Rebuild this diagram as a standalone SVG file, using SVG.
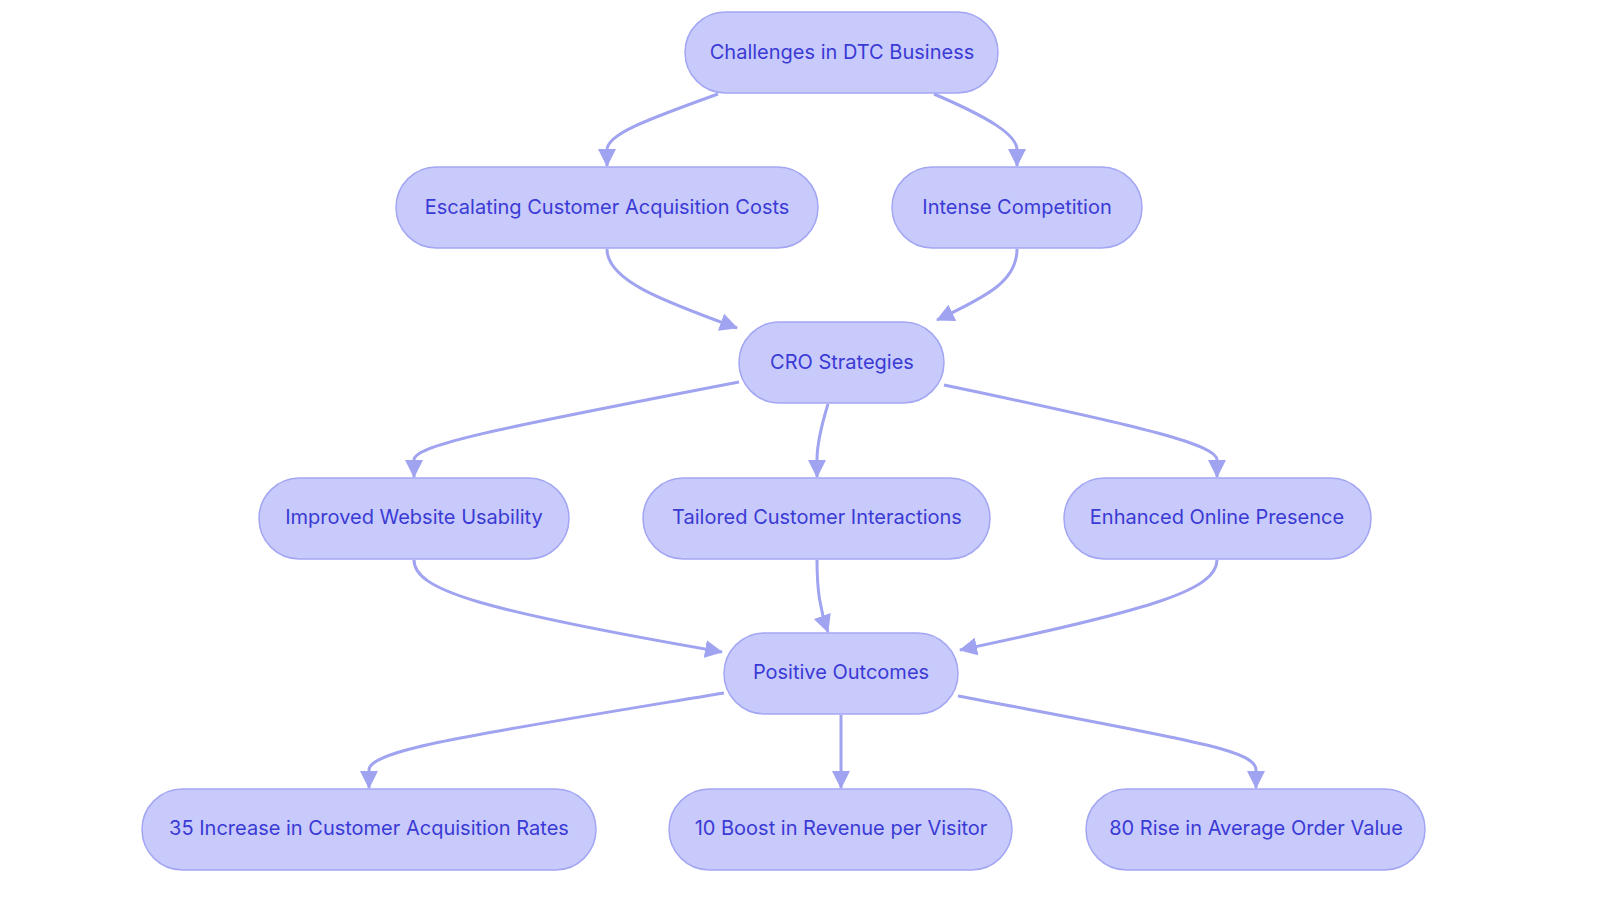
<svg xmlns="http://www.w3.org/2000/svg" width="1600" height="903" viewBox="0 0 1600 903">
<style>
.n rect{fill:#c8cafc;stroke:#a3a6f2;stroke-width:1.5}
.n text{font-family:Inter,"Liberation Sans",sans-serif;font-size:20px;fill:#3a3ad4;text-anchor:middle;dominant-baseline:central}
.e path{fill:none;stroke:#a0a3f0;stroke-width:3}
</style>
<defs><marker id="a" viewBox="0 0 10 10" refX="9" refY="5" markerWidth="6" markerHeight="6" orient="auto" markerUnits="userSpaceOnUse" style="overflow:visible"><path d="M0,0L10,5L0,10z" fill="#a0a3f0" transform="scale(1.8) translate(-4,-2.2)"/></marker>
<marker id="m" viewBox="0 0 18 18" refX="17" refY="9" markerWidth="18" markerHeight="18" orient="auto" markerUnits="userSpaceOnUse"><path d="M0,0L18,9L0,18z" fill="#a0a3f0"/></marker></defs>
<g class="e">
<path d="M718,94C640,122 607,135 607,150L607,166" marker-end="url(#m)"/>
<path d="M934,94C990,118 1017,135 1017,150L1017,166" marker-end="url(#m)"/>
<path d="M607,249C607,280 660,300 737,328" marker-end="url(#m)"/>
<path d="M1017,249C1017,280 990,295 937,320" marker-end="url(#m)"/>
<path d="M739,382C500,428 414,445 414,460L414,477" marker-end="url(#m)"/>
<path d="M828,404C820,430 817,445 817,460L817,477" marker-end="url(#m)"/>
<path d="M944,385C1150,428 1217,445 1217,460L1217,477" marker-end="url(#m)"/>
<path d="M414,560C414,590 480,610 722,652" marker-end="url(#m)"/>
<path d="M817,560C817,590 820,610 828,632" marker-end="url(#m)"/>
<path d="M1217,560C1217,590 1150,610 960,650" marker-end="url(#m)"/>
<path d="M724,693C470,735 369,750 369,770L369,788" marker-end="url(#m)"/>
<path d="M841,715L841,788" marker-end="url(#m)"/>
<path d="M958,696C1190,740 1256,750 1256,770L1256,788" marker-end="url(#m)"/>
</g>
<g id="n1" class="n"><rect x="685" y="12" width="313" height="81" rx="40.5"/><text x="842" y="52">Challenges in DTC Business</text></g>
<g id="n2" class="n"><rect x="396" y="167" width="422" height="81" rx="40.5"/><text x="607" y="207">Escalating Customer Acquisition Costs</text></g>
<g id="n3" class="n"><rect x="892" y="167" width="250" height="81" rx="40.5"/><text x="1017" y="207">Intense Competition</text></g>
<g id="n4" class="n"><rect x="739" y="322" width="205" height="81" rx="40.5"/><text x="842" y="362">CRO Strategies</text></g>
<g id="n5" class="n"><rect x="259" y="478" width="310" height="81" rx="40.5"/><text x="414" y="517">Improved Website Usability</text></g>
<g id="n6" class="n"><rect x="643" y="478" width="347" height="81" rx="40.5"/><text x="817" y="517">Tailored Customer Interactions</text></g>
<g id="n7" class="n"><rect x="1064" y="478" width="307" height="81" rx="40.5"/><text x="1217" y="517">Enhanced Online Presence</text></g>
<g id="n8" class="n"><rect x="724" y="633" width="234" height="81" rx="40.5"/><text x="841" y="672">Positive Outcomes</text></g>
<g id="n9" class="n"><rect x="142" y="789" width="454" height="81" rx="40.5"/><text x="369" y="828">35 Increase in Customer Acquisition Rates</text></g>
<g id="n10" class="n"><rect x="669" y="789" width="343" height="81" rx="40.5"/><text x="841" y="828">10 Boost in Revenue per Visitor</text></g>
<g id="n11" class="n"><rect x="1086" y="789" width="339" height="81" rx="40.5"/><text x="1256" y="828">80 Rise in Average Order Value</text></g>
</svg>
